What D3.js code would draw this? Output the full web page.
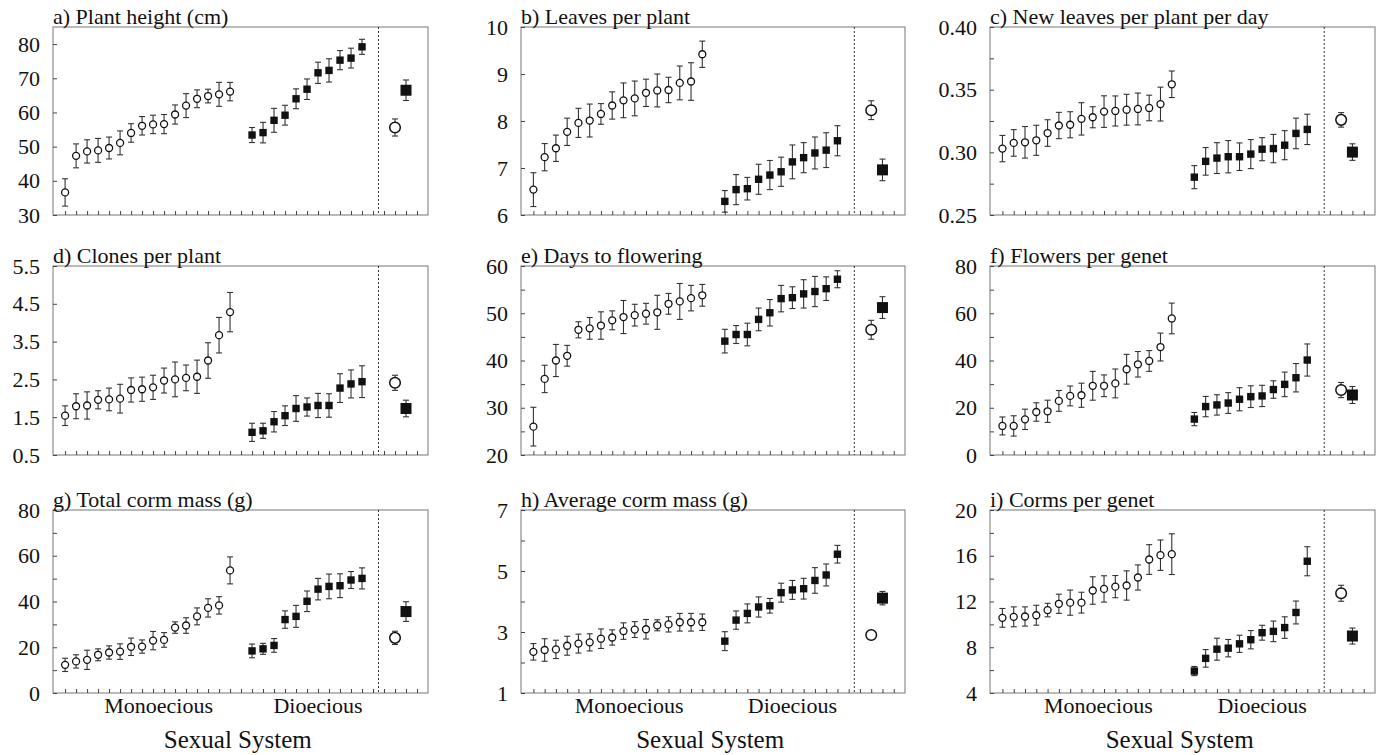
<!DOCTYPE html>
<html lang="en">
<head>
<meta charset="utf-8">
<title>Traits by sexual system</title>
<script src="https://cdnjs.cloudflare.com/ajax/libs/d3/7.8.5/d3.min.js"></script>
<style>
  body { margin: 0; background: #fff; }
  svg, svg text { font-family: 'Liberation Serif', 'DejaVu Serif', 'Times New Roman', Times, serif; }
  svg text { fill: #111; }
</style>
</head>
<body>
<script>
// each entry is [mean, se]
// populations are ordered by mean within each sexual system
const heightMono = [[36.6,4.0],[47.3,3.5],[48.6,3.4],[48.9,3.5],[49.6,3.2],[51.1,3.5],[54.0,2.7],[56.1,2.7],[56.5,2.7],[56.6,2.8],[59.4,2.8],[62.0,3.5],[64.0,2.6],[64.8,2.0],[65.3,3.5],[66.1,2.7]];
const heightDio = [[53.4,2.2],[54.1,3.0],[57.7,3.5],[59.2,2.9],[64.0,2.9],[66.8,3.0],[71.6,3.1],[72.3,3.4],[75.3,2.8],[75.9,2.9],[79.2,2.2]];
const heightAll = [[55.6,2.5],[66.5,3.0]];

const leavesMono = [[6.54,0.36],[7.23,0.29],[7.42,0.28],[7.77,0.29],[7.96,0.31],[8.01,0.35],[8.15,0.22],[8.33,0.29],[8.44,0.37],[8.48,0.37],[8.60,0.29],[8.65,0.35],[8.66,0.27],[8.81,0.36],[8.84,0.40],[9.42,0.28]];
const leavesDio = [[6.29,0.23],[6.54,0.32],[6.56,0.24],[6.76,0.32],[6.85,0.31],[6.92,0.31],[7.13,0.36],[7.22,0.32],[7.32,0.34],[7.38,0.37],[7.58,0.32]];
const leavesAll = [[8.23,0.20],[6.96,0.23]];

const newLeavesMono = [[0.303,0.0105],[0.3075,0.0106],[0.308,0.0126],[0.3096,0.012],[0.3154,0.0106],[0.3214,0.0105],[0.322,0.0104],[0.3267,0.0129],[0.328,0.0084],[0.3325,0.0126],[0.333,0.012],[0.334,0.0123],[0.3346,0.0127],[0.3354,0.0102],[0.3385,0.0135],[0.3543,0.0106]];
const newLeavesDio = [[0.2802,0.0092],[0.2928,0.011],[0.2954,0.0123],[0.2965,0.0129],[0.2965,0.011],[0.2986,0.0116],[0.3025,0.0092],[0.303,0.0113],[0.3057,0.0116],[0.3151,0.0122],[0.3183,0.0121]];
const newLeavesAll = [[0.3259,0.0058],[0.3002,0.0066]];

const clonesMono = [[1.54,0.26],[1.79,0.33],[1.81,0.36],[1.96,0.24],[1.97,0.30],[1.99,0.38],[2.22,0.32],[2.24,0.32],[2.29,0.32],[2.47,0.33],[2.50,0.46],[2.54,0.34],[2.57,0.44],[3.00,0.47],[3.67,0.47],[4.28,0.52]];
const clonesDio = [[1.10,0.24],[1.14,0.20],[1.38,0.27],[1.54,0.26],[1.73,0.34],[1.77,0.24],[1.81,0.32],[1.81,0.31],[2.27,0.38],[2.38,0.37],[2.44,0.42]];
const clonesAll = [[2.41,0.20],[1.73,0.22]];

const daysMono = [[26.0,4.1],[36.1,2.9],[40.0,3.4],[41.0,2.2],[46.5,1.7],[46.8,2.3],[47.4,2.9],[48.5,2.0],[49.2,3.5],[49.6,2.3],[49.9,2.2],[50.2,3.6],[52.0,2.2],[52.5,3.8],[53.2,2.7],[53.8,2.3]];
const daysDio = [[44.1,2.5],[45.5,1.9],[45.5,2.4],[48.7,2.4],[50.1,2.8],[53.1,2.8],[53.3,2.3],[54.1,3.0],[54.6,3.2],[55.2,2.5],[57.2,1.8]];
const daysAll = [[46.5,2.0],[51.2,2.3]];

const flowersMono = [[12.3,3.8],[12.3,4.3],[15.1,4.3],[18.2,3.9],[18.5,4.7],[22.9,4.4],[25.0,4.2],[25.3,5.1],[29.3,6.1],[29.3,4.6],[30.3,6.1],[36.3,6.3],[38.4,5.4],[39.8,4.4],[45.7,5.9],[57.8,6.5]];
const flowersDio = [[15.2,2.8],[20.5,4.3],[21.2,4.3],[22.0,4.4],[23.6,4.9],[24.7,4.6],[25.0,4.5],[27.7,3.7],[29.9,5.2],[32.7,6.0],[40.2,6.8]];
const flowersAll = [[27.5,3.2],[25.4,3.6]];

const cormTotalMono = [[12.3,2.9],[13.8,2.9],[14.5,4.2],[16.7,2.6],[17.7,2.9],[18.1,3.4],[20.2,3.8],[20.3,2.9],[22.9,4.0],[23.2,3.2],[28.6,2.5],[29.5,3.4],[33.5,3.7],[37.2,4.0],[38.3,3.8],[53.6,5.9]];
const cormTotalDio = [[18.4,3.0],[19.3,2.4],[20.8,3.0],[32.1,3.8],[33.5,4.8],[40.1,4.5],[45.4,4.7],[46.6,5.4],[46.9,5.2],[49.4,3.7],[50.1,4.6]];
const cormTotalAll = [[24.1,2.9],[35.6,4.3]];

const cormAvgMono = [[2.35,0.27],[2.41,0.37],[2.43,0.30],[2.55,0.31],[2.62,0.31],[2.66,0.28],[2.78,0.32],[2.82,0.25],[3.03,0.27],[3.08,0.26],[3.09,0.32],[3.22,0.18],[3.25,0.25],[3.32,0.29],[3.32,0.29],[3.32,0.27]];
const cormAvgDio = [[2.70,0.31],[3.39,0.30],[3.61,0.31],[3.82,0.33],[3.86,0.24],[4.29,0.31],[4.38,0.31],[4.42,0.34],[4.69,0.42],[4.87,0.36],[5.55,0.29]];
const cormAvgAll = [[2.90,0],[4.11,0.22]];

const cormsMono = [[10.57,0.82],[10.66,0.87],[10.69,0.84],[10.8,0.87],[11.25,0.59],[11.8,0.84],[11.9,1.1],[11.9,0.91],[12.96,1.2],[13.1,1.15],[13.3,0.97],[13.4,1.28],[14.1,1.1],[15.67,1.3],[16.05,1.33],[16.14,1.78]];
const cormsDio = [[5.92,0.4],[7.03,0.77],[7.83,0.96],[7.92,0.76],[8.3,0.75],[8.66,0.8],[9.27,0.65],[9.39,0.9],[9.72,0.94],[11.04,1.0],[15.52,1.27]];
const cormsAll = [[12.72,0.7],[8.98,0.7]];

const titles = ["a) Plant height (cm)", "b) Leaves per plant", "c) New leaves per plant per day",
  "d) Clones per plant", "e) Days to flowering", "f) Flowers per genet",
  "g) Total corm mass (g)", "h) Average corm mass (g)", "i) Corms per genet"];
const yDomains = [[30,85],[6,10],[0.25,0.40],[0.5,5.5],[20,60],[0,80],[0,80],[1,7],[4,20]];
const yTicks = [[30,40,50,60,70,80],[6,7,8,9,10],[0.25,0.30,0.35,0.40],[0.5,1.5,2.5,3.5,4.5,5.5],[20,30,40,50,60],[0,20,40,60,80],[0,20,40,60,80],[1,3,5,7],[4,8,12,16,20]];
const yMinor = [[],[],[0.275,0.325,0.375],[],[25,35,45,55],[10,30,50,70],[10,30,50,70],[2,4,6],[6,10,14,18]];
const tickFormats = ["d","d",".2f",".1f","d","d","d","d","d"];
const groupLabels = ["Monoecious", "Dioecious"];
const xTitle = "Sexual System";

const monoSeries = [heightMono, leavesMono, newLeavesMono, clonesMono, daysMono, flowersMono, cormTotalMono, cormAvgMono, cormsMono];
const dioSeries = [heightDio, leavesDio, newLeavesDio, clonesDio, daysDio, flowersDio, cormTotalDio, cormAvgDio, cormsDio];
const allSeries = [heightAll, leavesAll, newLeavesAll, clonesAll, daysAll, flowersAll, cormTotalAll, cormAvgAll, cormsAll];

const SERIF = "'Liberation Serif', 'DejaVu Serif', 'Times New Roman', Times, serif";
const width = 1384, height = 755;
const colLeft = [53, 521, 990], colRight = [428, 905, 1375];
const rowTop = [27, 266, 510], rowBottom = [215, 455, 693];

const svg = d3.select("body").append("svg")
    .attr("width", width)
    .attr("height", height)
    .attr("font-family", SERIF);

titles.forEach(function(title, p) {
    const col = p % 3, row = Math.floor(p / 3);
    const x0 = colLeft[col], x1 = colRight[col];
    const y0 = rowTop[row], y1 = rowBottom[row];

    // slot positions: mono 0-15, dio 17-27, overall means 30 and 31
    const x = d3.scaleLinear().domain([-1.1, 33]).range([x0, x1]);
    const y = d3.scaleLinear().domain(yDomains[p]).range([y1, y0]);

    const g = svg.append("g");

    g.append("rect")
        .attr("x", x0).attr("y", y0)
        .attr("width", x1 - x0).attr("height", y1 - y0)
        .attr("fill", "none")
        .attr("stroke", "#777")
        .attr("stroke-width", 1);

    g.append("line")
        .attr("x1", x(28.5)).attr("x2", x(28.5))
        .attr("y1", y0).attr("y2", y1)
        .attr("stroke", "#333")
        .attr("stroke-width", 1)
        .attr("stroke-dasharray", "2,2");

    const yAxis = g.append("g")
        .attr("transform", "translate(" + x0 + ",0)")
        .call(d3.axisLeft(y).tickValues(yTicks[p])
            .tickFormat(d3.format(tickFormats[p]))
            .tickSizeInner(-4).tickSizeOuter(0).tickPadding(13));
    yAxis.attr("font-family", SERIF);
    yAxis.select(".domain").remove();
    yAxis.selectAll("line").attr("stroke", "#444");
    yAxis.selectAll("text").attr("font-size", 22)
        .style("font-family", SERIF).attr("fill", "#111");

    const yMin = g.append("g")
        .attr("transform", "translate(" + x0 + ",0)")
        .call(d3.axisLeft(y).tickValues(yMinor[p]).tickFormat("")
            .tickSizeInner(-4).tickSizeOuter(0));
    yMin.select(".domain").remove();
    yMin.selectAll("line").attr("stroke", "#444");

    const xAxis = g.append("g")
        .attr("transform", "translate(0," + y1 + ")")
        .call(d3.axisBottom(x).tickValues(d3.range(0, 33)).tickFormat("")
            .tickSizeInner(-4).tickSizeOuter(0));
    xAxis.select(".domain").remove();
    xAxis.selectAll("line").attr("stroke", "#444");

    g.append("text")
        .attr("x", x0)
        .attr("y", y0 - 3)
        .attr("font-size", 22)
        .style("font-family", SERIF)
        .text(title);

    const pts = []
        .concat(monoSeries[p].map(function(d, i) { return {pos: i, m: d[0], se: d[1], shape: "circle", big: false}; }))
        .concat(dioSeries[p].map(function(d, i) { return {pos: 17 + i, m: d[0], se: d[1], shape: "square", big: false}; }))
        .concat([{pos: 30, m: allSeries[p][0][0], se: allSeries[p][0][1], shape: "circle", big: true},
                 {pos: 31, m: allSeries[p][1][0], se: allSeries[p][1][1], shape: "square", big: true}]);

    const bars = g.append("g").selectAll("g")
        .data(pts.filter(function(d) { return d.se > 0; }))
        .join("g")
        .attr("stroke", "#333")
        .attr("stroke-width", 1.1);
    bars.append("line")
        .attr("x1", function(d) { return x(d.pos); })
        .attr("x2", function(d) { return x(d.pos); })
        .attr("y1", function(d) { return y(d.m - d.se); })
        .attr("y2", function(d) { return y(d.m + d.se); });
    bars.append("line")
        .attr("x1", function(d) { return x(d.pos) - 3; })
        .attr("x2", function(d) { return x(d.pos) + 3; })
        .attr("y1", function(d) { return y(d.m + d.se); })
        .attr("y2", function(d) { return y(d.m + d.se); });
    bars.append("line")
        .attr("x1", function(d) { return x(d.pos) - 3; })
        .attr("x2", function(d) { return x(d.pos) + 3; })
        .attr("y1", function(d) { return y(d.m - d.se); })
        .attr("y2", function(d) { return y(d.m - d.se); });

    g.append("g").selectAll("circle")
        .data(pts.filter(function(d) { return d.shape == "circle"; }))
        .join("circle")
        .attr("cx", function(d) { return x(d.pos); })
        .attr("cy", function(d) { return y(d.m); })
        .attr("r", function(d) { return d.big ? 5.3 : 3.5; })
        .attr("fill", "#fff")
        .attr("stroke", "#111")
        .attr("stroke-width", function(d) { return d.big ? 1.5 : 1.3; });

    g.append("g").selectAll("rect")
        .data(pts.filter(function(d) { return d.shape == "square"; }))
        .join("rect")
        .attr("x", function(d) { return x(d.pos) - (d.big ? 5.5 : 3.7); })
        .attr("y", function(d) { return y(d.m) - (d.big ? 5.5 : 3.7); })
        .attr("width", function(d) { return d.big ? 11 : 7.4; })
        .attr("height", function(d) { return d.big ? 11 : 7.4; })
        .attr("fill", "#111");

    if (row == 2) {
        g.append("text")
            .attr("x", x(8.5)).attr("y", y1 + 20)
            .attr("text-anchor", "middle")
            .attr("font-size", 22)
            .style("font-family", SERIF)
            .text(groupLabels[0]);
        g.append("text")
            .attr("x", x(23)).attr("y", y1 + 20)
            .attr("text-anchor", "middle")
            .attr("font-size", 22)
            .style("font-family", SERIF)
            .text(groupLabels[1]);
        g.append("text")
            .attr("x", x(15.7)).attr("y", y1 + 55)
            .attr("text-anchor", "middle")
            .attr("font-size", 25)
            .style("font-family", SERIF)
            .text(xTitle);
    }
});
</script>
</body>
</html>
